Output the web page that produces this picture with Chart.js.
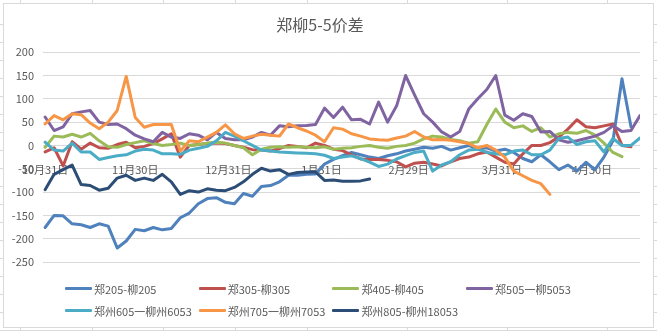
<!DOCTYPE html>
<html>
<head>
<meta charset="utf-8">
<script src="https://cdn.jsdelivr.net/npm/chart.js@4"></script>
<style>
  html, body { margin: 0; padding: 0; }
  body {
    width: 657px; height: 331px; overflow: hidden; position: relative;
    background: #fff repeating-linear-gradient(to bottom, transparent 0 17px, #dadada 17px 18px);
    background-position: 0 7px;
    font-family: "Noto Sans CJK SC", "Noto Sans", sans-serif;
  }
  .col { position: absolute; top: 0; width: 1px; height: 331px; background: #dadada; }
  #box { position: absolute; left: 3px; top: 3px; width: 649px; height: 323px; border: 1px solid #d9d9d9; background: #fff; }
  #wrap { position: absolute; left: 0; top: 0; width: 657px; height: 331px; }
  #legend { position: absolute; left: 65px; top: 279px; display: grid; grid-template-columns: repeat(4, 133.7px); row-gap: 3px; }
  .item { display: flex; align-items: center; height: 19px; font-size: 11px; color: #595959; white-space: nowrap; }
  .sw { display: inline-block; width: 27px; height: 3px; margin-right: 2px; border-radius: 1px; }
</style>
</head>
<body>
<div class="col" style="left:20px"></div>
<div class="col" style="left:92px"></div>
<div class="col" style="left:163px"></div>
<div class="col" style="left:235px"></div>
<div class="col" style="left:307px"></div>
<div class="col" style="left:407px"></div>
<div class="col" style="left:507px"></div>
<div class="col" style="left:607px"></div>
<div id="box"></div>
<div id="wrap"><canvas id="canvas1"></canvas></div>
<div id="legend"></div>
<script>
// x = days after 10月31日 (one sample every 3 days)
const days = [0, 3, 6, 9, 12, 15, 18, 21, 24, 27, 30, 33, 36, 39, 42, 45, 48, 51, 54, 57,
  60, 63, 66, 69, 72, 75, 78, 81, 84, 87, 90, 93, 96, 99, 102, 105, 108, 111, 114, 117,
  120, 123, 126, 129, 132, 135, 138, 141, 144, 147, 150, 153, 156, 159, 162, 165, 168, 171, 174, 177,
  180, 183, 186, 189, 192, 195, 198];

const tickDays = [0, 30, 61, 92, 121, 152, 182];
const tickLabels = ["10月31日", "11月30日", "12月31日", "1月31日", "2月29日", "3月31日", "4月30日"];

const names = ["郑205-柳205", "郑305-柳305", "郑405-柳405", "郑505一柳5053",
  "郑州605一柳州6053", "郑州705一柳州7053", "郑州805-柳州18053"];
const colors = ["#4F81BD", "#C0504D", "#9BBB59", "#8064A2", "#4BACC6", "#F79646", "#2C4D75"];

const s205 = [-176, -150, -151, -168, -170, -176, -168, -173, -220, -205,
  -180, -183, -176, -181, -178, -155, -145, -125, -114, -112,
  -122, -125, -103, -109, -88, -86, -78, -64, -64, -62,
  -61, -40, -30, -22, -15, -20, -25, -28, -22, -18,
  -12, -8, -4, -6, -2, -10, -5, 0, -8, -5,
  -12, -8, -15, -28, -35, -20, -35, -52, -42, -55,
  -36, -52, -25, 10, 143, 40, null];
const s305 = [-14, -5, -44, 8, -8, 5, -5, -6, 2, 7,
  -5, -2, 4, 14, 25, -25, 0, 2, 4, 5,
  4, 0, -4, -9, -10, -12, -7, 0, -2, -5,
  5, 0, -8, -11, -20, -29, -30, -30, -32, -35,
  -46, -38, -36, -40, -44, -35, -28, -25, -18, -14,
  -25, -36, -40, -18, 0, 0, 6, 18, 35, 55,
  40, 38, 42, 46, 0, -3, null];
const s405 = [-4, 20, 18, 24, 18, 26, 10, -3, -4, 2,
  6, 10, 4, 0, 2, 5, 0, 2, 5, 7,
  5, 0, -5, -20, -8, -4, -3, -4, -3, -4,
  -5, -3, -8, -6, -5, -2, 0, -4, -6, -2,
  0, 5, 14, 20, 18, 13, 10, 5, 8, 45,
  78, 50, 38, 42, 30, 38, 18, 25, 28, 26,
  32, 22, 5, -15, -24, null, null];
const s505 = [61, 32, 40, 68, 72, 75, 50, 45, 46, 36,
  22, 14, 8, 28, 18, 15, 25, 22, 12, 28,
  15, 12, 12, 18, 28, 22, 42, 40, 42, 43,
  45, 80, 60, 82, 55, 56, 46, 93, 50, 85,
  150, 108, 68, 50, 29, 18, 30, 78, 100, 120,
  150, 65, 54, 68, 62, 29, 30, 12, 7, 10,
  15, 20, 28, 42, 30, 32, 64];
const s605 = [7, -10, -12, 5, -14, -14, -30, -26, -22, -20,
  -12, -8, -10, -18, -18, -19, -10, -6, -2, 10,
  28, 20, 10, 0, -10, -12, -14, -15, -16, -17,
  -18, -21, -28, -25, -22, -28, -36, -45, -40, -29,
  -22, -15, -12, -55, -42, -35, -20, -10, -8, -15,
  -18, -20, -12, -10, -20, -20, -10, 15, 18, 2,
  8, 10, -14, 15, 0, 0, 16];
const s705 = [46, 64, 55, 68, 66, 48, 36, 50, 75, 148,
  60, 39, 45, 45, 45, -12, 10, 8, 18, 28,
  44, 25, 15, 20, 24, 22, 20, 46, 38, 31,
  22, 8, 38, 35, 25, 20, 14, 12, 11, 16,
  20, 30, 18, 12, 13, 11, 8, 4, -5, 0,
  -10, -25, -55, -65, -75, -82, -105,
  null, null, null, null, null, null, null, null, null, null];
const s805 = [-95, -62, -52, -42, -84, -86, -96, -92, -70, -64,
  -75, -70, -75, -62, -78, -105, -97, -100, -93, -96,
  -97, -90, -78, -62, -49, -55, -52, -62, -58, -57,
  -57, -75, -74, -77, -77, -76, -72,
  null, null, null, null, null, null, null, null, null, null,
  null, null, null, null, null, null, null, null, null, null,
  null, null, null, null, null, null, null, null, null, null];

const series = [s205, s305, s405, s505, s605, s705, s805];

Chart.defaults.font.family = '"Noto Sans CJK SC", "Noto Sans", sans-serif';
Chart.defaults.color = "#595959";

window.onload = function () {
  let ctx1 = document.getElementById("canvas1").getContext("2d");
  new Chart(ctx1, {
    type: "line",
    data: {
      datasets: series.map((vals, i) => ({
        label: names[i],
        data: vals.map((v, k) => ({ x: days[k], y: v })),
        borderColor: colors[i],
        backgroundColor: colors[i],
        borderWidth: 3,
        borderJoinStyle: "round",
        borderCapStyle: "round",
        pointRadius: 0,
        tension: 0,
        order: series.length - i, // later series on top, like Excel
      })),
    },
    options: {
      responsive: true,
      maintainAspectRatio: false,
      animation: false,
      layout: { padding: { top: 4, left: 0, right: 17, bottom: 69 } },
      plugins: {
        legend: { display: false },
        tooltip: { enabled: false },
        title: {
          display: true,
          text: "郑柳5-5价差",
          color: "#595959",
          font: { size: 16, weight: "normal" },
          padding: { top: 11, bottom: 18 },
        },
      },
      scales: {
        x: {
          type: "linear",
          min: -0.7,
          max: 198,
          position: { y: 0 },
          grid: { display: false },
          border: { display: false },
          afterBuildTicks: (scale) => {
            scale.ticks = tickDays.map((d) => ({ value: d }));
          },
          ticks: {
            autoSkip: false,
            maxRotation: 0,
            padding: 10,
            font: { size: 11 },
            callback: (v, i) => tickLabels[i],
          },
        },
        y: {
          min: -250,
          max: 200,
          afterFit: (scale) => { scale.width = 43; },
          grid: { color: "#D9D9D9", drawTicks: false },
          border: { display: false },
          ticks: { stepSize: 50, padding: 9, font: { size: 11 } },
        },
      },
    },
  });

  // legend in Excel style columns
  const lg = document.getElementById("legend");
  names.forEach((n, i) => {
    const it = document.createElement("div");
    it.className = "item";
    it.innerHTML = '<span class="sw" style="background:' + colors[i] + '"></span>' + n;
    lg.appendChild(it);
  });
};
</script>
</body>
</html>
